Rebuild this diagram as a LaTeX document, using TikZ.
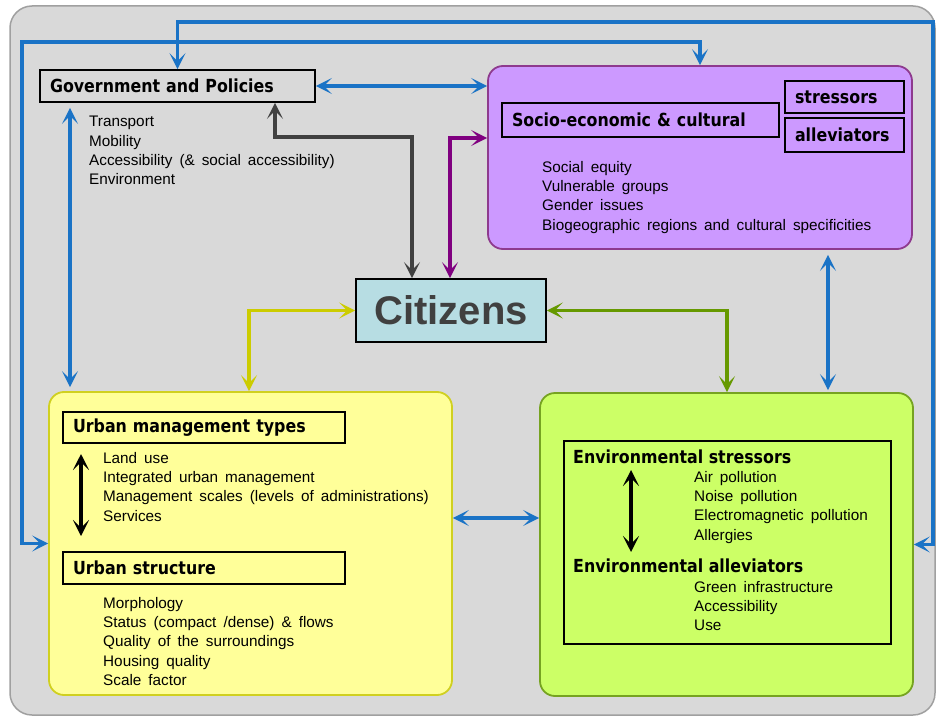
\documentclass[tikz,border=0pt]{standalone}
\usepackage{fontspec}
\setmainfont{Liberation Sans}[WordSpace=1.65]
\newfontfamily\titlefont{DejaVu Sans}[FakeStretch=0.88]
\usetikzlibrary{arrows.meta}
\definecolor{bggray}{HTML}{D9D9D9}
\definecolor{bgline}{HTML}{A0A0A0}
\definecolor{sociofill}{HTML}{CC99FF}
\definecolor{socioline}{HTML}{8E3A8E}
\definecolor{urbanfill}{HTML}{FFFF99}
\definecolor{urbanline}{HTML}{D0D020}
\definecolor{envfill}{HTML}{CCFF66}
\definecolor{envline}{HTML}{76A321}
\definecolor{citfill}{HTML}{B7DDE3}
\definecolor{citext}{HTML}{404040}
\definecolor{arrblue}{HTML}{1A73C6}
\definecolor{grayarr}{HTML}{404040}
\definecolor{purparr}{HTML}{800080}
\definecolor{yelarr}{HTML}{CCCC00}
\definecolor{grarr}{HTML}{669900}
\tikzset{
  panel/.style={draw, line width=1.8pt, rounded corners=15pt, inner sep=0pt},
  titlebox/.style={draw=black, line width=1.8pt, inner xsep=10pt, inner ysep=0pt, align=left,
    font=\titlefont\bfseries\fontsize{18}{20}\selectfont},
  titletext/.style={anchor=base west, inner sep=0pt, font=\titlefont\bfseries\fontsize{18}{20}\selectfont},
  itemlist/.style={anchor=north west, inner sep=0pt, align=left, font=\fontsize{15.3}{19.3}\selectfont},
  link/.style={line width=3.2pt, {Stealth[length=16pt,width=16pt,inset=8pt]}-{Stealth[length=16pt,width=16pt,inset=8pt]}}
}

\begin{document}
\begin{tikzpicture}[x=1pt,y=-1pt]
\useasboundingbox (0,0) rectangle (940,717);
\draw[draw=bgline, fill=bggray, line width=1.5pt, rounded corners=22pt] (10,6) rectangle (935,715);
\node[panel, draw=socioline, fill=sociofill, minimum width=424pt, minimum height=183pt] (socio) at (700,157.5) {};
\node[panel, draw=urbanline, fill=urbanfill, minimum width=403pt, minimum height=303pt] (urban) at (250.5,543.5) {};
\node[panel, draw=envline, fill=envfill, minimum width=373pt, minimum height=303pt] (env) at (726.5,544.5) {};
\node[draw, line width=1.8pt, minimum width=327pt, minimum height=203pt] (envbox) at (727.5,542.5) {};
\node[draw, line width=1.8pt, fill=citfill, minimum width=190pt, minimum height=63pt, text=citext,
  font=\bfseries\fontsize{40}{40}\selectfont] (cit) at (451,310.5) {Citizens};
\node[titlebox, text width=255pt, minimum height=32pt] (gov) at (177.5,86) {Government and Policies};
\node[titlebox, text width=257pt, minimum height=34pt] (sociotitle) at (640.5,120) {Socio-economic \& cultural};
\node[titlebox, text width=99pt, minimum height=32pt] (stress) at (844.5,97) {stressors};
\node[titlebox, text width=99pt, minimum height=34pt] (allev) at (844.5,135) {alleviators};
\node[titlebox, text width=262pt, minimum height=31pt] (mgmt) at (204,427.5) {Urban management types};
\node[titlebox, text width=262pt, minimum height=32pt] (struct) at (204,568) {Urban structure};
\node[titletext] (envstress) at (573,463) {Environmental stressors};
\node[titletext] (envallev) at (573,572) {Environmental alleviators};
\node[itemlist] (govlist) at (89,116) {Transport\\Mobility\\Accessibility (\& social accessibility)\\Environment};
\node[itemlist] (sociolist) at (542,161) {Social equity\\Vulnerable groups\\Gender issues\\Biogeographic regions and cultural specificities};
\node[itemlist] (mgmtlist) at (103,452) {Land use\\Integrated urban management\\Management scales (levels of administrations)\\Services};
\node[itemlist] (structlist) at (103,597) {Morphology\\Status (compact /dense) \& flows\\Quality of the surroundings\\Housing quality\\Scale factor};
\node[itemlist] (stresslist) at (694,471) {Air pollution\\Noise pollution\\Electromagnetic pollution\\Allergies};
\node[itemlist] (allevlist) at (694,581) {Green infrastructure\\Accessibility\\Use};
\coordinate (topA) at (933,22);
\coordinate (topB) at (22,42);
\coordinate (lv) at (70,0);
\coordinate (rv) at (828,0);
\coordinate (mid) at (0,518);
\coordinate (g1) at (412,137);
\coordinate (g2) at (275,137);
\coordinate (p1) at (450,138);
\coordinate (y1) at (249,0);
\coordinate (gr1) at (727,0);
\coordinate (ua) at (81,454);
\coordinate (ub) at (81,536);
\coordinate (ea) at (631,470);
\coordinate (eb) at (631,552);
\draw[link, draw=arrblue] (gov.north) |- (topA) |- (env.east);
\draw[link, draw=arrblue] (urban.west) -| (topB) -| (socio.north);
\draw[link, draw=arrblue] (gov.east) -- (gov.east -| socio.west);
\draw[link, draw=arrblue, shorten <=5pt, shorten >=4pt] (gov.south -| lv) -- (urban.north -| lv);
\draw[link, draw=arrblue, shorten <=5pt, shorten >=2pt] (socio.south -| rv) -- (env.north -| rv);
\draw[link, draw=arrblue] (urban.east |- mid) -- (env.west |- mid);
\draw[link, draw=grayarr] (cit.north -| g1) -- (g1) -- (g2) -- (gov.south -| g2);
\draw[link, draw=purparr] (cit.north -| p1) -- (p1) -- (socio.west |- p1);
\draw[link, draw=yelarr] (cit.west) -| (urban.north -| y1);
\draw[link, draw=grarr] (cit.east) -| (env.north -| gr1);
\draw[link, draw=black, line width=3.5pt] (ua) -- (ub);
\draw[link, draw=black, line width=3.5pt] (ea) -- (eb);
\end{tikzpicture}
\end{document}
